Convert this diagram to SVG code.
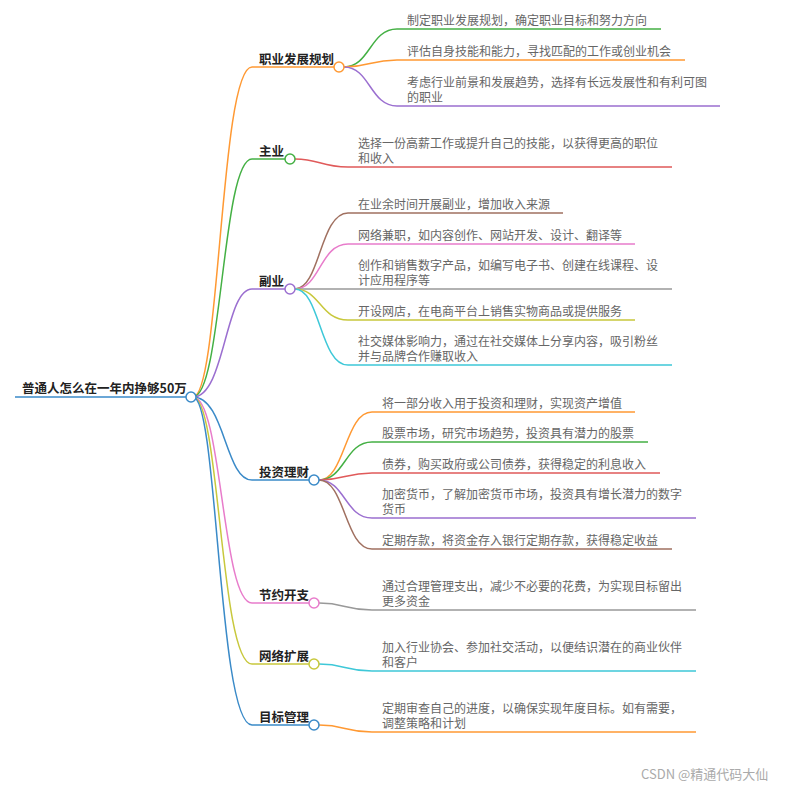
<svg xmlns="http://www.w3.org/2000/svg" width="800" height="790" viewBox="0 0 800 790">
<style>
.l{fill:none;stroke-width:1.5}
.c{fill:#fff;stroke-width:1.5}
.t{font-family:"Noto Sans CJK SC","Noto Sans",sans-serif;font-size:12px;fill:#666}
.b{font-family:"Noto Sans CJK SC","Noto Sans",sans-serif;font-size:12.5px;font-weight:bold;fill:#222}
</style>
<rect width="800" height="790" fill="#fff"/>
<g id="connectors">
<path class="l" stroke="#ff9933" d="M193 397 C220 397,220 67,252 67 H339"/>
<path class="l" stroke="#44b044" d="M193 397 C222 397,222 159,252 159 H290"/>
<path class="l" stroke="#9b6fd0" d="M193 397 C225 397,225 289,252 289 H290"/>
<path class="l" stroke="#3a8ac8" d="M193 397 C225 397,225 480,252 480 H314"/>
<path class="l" stroke="#e87ccb" d="M193 397 C222 397,222 603,252 603 H314"/>
<path class="l" stroke="#c8c83c" d="M193 397 C220 397,220 664,252 664 H314"/>
<path class="l" stroke="#3a8ac8" d="M193 397 C218 397,218 725,252 725 H314"/>
<path class="l" stroke="#3a8ac8" stroke-width="2.5" d="M15 397 H186"/>
<path class="l" stroke="#44b044" d="M344 67 C370 67,370 29,397 29 H661"/>
<path class="l" stroke="#ff9933" d="M344 67 C370 67,370 60,397 60 H685"/>
<path class="l" stroke="#9b6fd0" d="M344 67 C370 67,370 106,397 106 H720"/>
<path class="l" stroke="#e05a5a" d="M295 159 C320 159,320 167,348 167 H672"/>
<path class="l" stroke="#a07060" d="M295 289 C320 289,320 213,348 213 H563"/>
<path class="l" stroke="#e87ccb" d="M295 289 C320 289,320 244,348 244 H635"/>
<path class="l" stroke="#999" d="M295 289 H672"/>
<path class="l" stroke="#c8c83c" d="M295 289 C320 289,320 320,348 320 H635"/>
<path class="l" stroke="#3ec8d8" d="M295 289 C320 289,320 365,348 365 H672"/>
<path class="l" stroke="#ff9933" d="M319 480 C345 480,345 412,372 412 H635"/>
<path class="l" stroke="#44b044" d="M319 480 C345 480,345 442,372 442 H648"/>
<path class="l" stroke="#e05a5a" d="M319 480 C345 480,345 473,372 473 H660"/>
<path class="l" stroke="#9b6fd0" d="M319 480 C345 480,345 518,372 518 H696"/>
<path class="l" stroke="#a07060" d="M319 480 C345 480,345 549,372 549 H672"/>
<path class="l" stroke="#999" d="M319 603 C345 603,345 610,372 610 H696"/>
<path class="l" stroke="#3ec8d8" d="M319 664 C345 664,345 671,372 671 H696"/>
<path class="l" stroke="#ff9933" d="M319 725 C345 725,345 732,372 732 H696"/>
</g>
<g id="root"><text class="b" x="22" y="393">普通人怎么在一年内挣够50万</text><circle class="c" stroke="#3a8ac8" cx="191" cy="397" r="5"/></g>
<g id="n1"><text class="b" x="259" y="64">职业发展规划</text><circle class="c" stroke="#ff9933" cx="339" cy="67" r="5"/></g>
<g id="n2"><text class="b" x="259" y="156">主业</text><circle class="c" stroke="#44b044" cx="290" cy="159" r="5"/></g>
<g id="n3"><text class="b" x="259" y="286">副业</text><circle class="c" stroke="#9b6fd0" cx="290" cy="289" r="5"/></g>
<g id="n4"><text class="b" x="259" y="477">投资理财</text><circle class="c" stroke="#3a8ac8" cx="314" cy="480" r="5"/></g>
<g id="n5"><text class="b" x="259" y="600">节约开支</text><circle class="c" stroke="#e87ccb" cx="314" cy="603" r="5"/></g>
<g id="n6"><text class="b" x="259" y="661">网络扩展</text><circle class="c" stroke="#c8c83c" cx="314" cy="664" r="5"/></g>
<g id="n7"><text class="b" x="259" y="722">目标管理</text><circle class="c" stroke="#3a8ac8" cx="314" cy="725" r="5"/></g>
<g id="leaves">
<text class="t" x="407" y="25">制定职业发展规划，确定职业目标和努力方向</text>
<text class="t" x="407" y="56">评估自身技能和能力，寻找匹配的工作或创业机会</text>
<text class="t" x="407" y="87">考虑行业前景和发展趋势，选择有长远发展性和有利可图</text>
<text class="t" x="407" y="102">的职业</text>
<text class="t" x="358" y="148">选择一份高薪工作或提升自己的技能，以获得更高的职位</text>
<text class="t" x="358" y="163">和收入</text>
<text class="t" x="358" y="209">在业余时间开展副业，增加收入来源</text>
<text class="t" x="358" y="240">网络兼职，如内容创作、网站开发、设计、翻译等</text>
<text class="t" x="358" y="270">创作和销售数字产品，如编写电子书、创建在线课程、设</text>
<text class="t" x="358" y="285">计应用程序等</text>
<text class="t" x="358" y="316">开设网店，在电商平台上销售实物商品或提供服务</text>
<text class="t" x="358" y="346">社交媒体影响力，通过在社交媒体上分享内容，吸引粉丝</text>
<text class="t" x="358" y="361">并与品牌合作赚取收入</text>
<text class="t" x="382" y="408">将一部分收入用于投资和理财，实现资产增值</text>
<text class="t" x="382" y="438">股票市场，研究市场趋势，投资具有潜力的股票</text>
<text class="t" x="382" y="469">债券，购买政府或公司债券，获得稳定的利息收入</text>
<text class="t" x="382" y="499">加密货币，了解加密货币市场，投资具有增长潜力的数字</text>
<text class="t" x="382" y="514">货币</text>
<text class="t" x="382" y="545">定期存款，将资金存入银行定期存款，获得稳定收益</text>
<text class="t" x="382" y="591">通过合理管理支出，减少不必要的花费，为实现目标留出</text>
<text class="t" x="382" y="606">更多资金</text>
<text class="t" x="382" y="652">加入行业协会、参加社交活动，以便结识潜在的商业伙伴</text>
<text class="t" x="382" y="667">和客户</text>
<text class="t" x="382" y="713">定期审查自己的进度，以确保实现年度目标。如有需要，</text>
<text class="t" x="382" y="728">调整策略和计划</text>
</g>
<text x="641" y="779" font-family="Noto Sans CJK SC,sans-serif" font-size="13" fill="#aaa">CSDN @精通代码大仙</text>
</svg>
